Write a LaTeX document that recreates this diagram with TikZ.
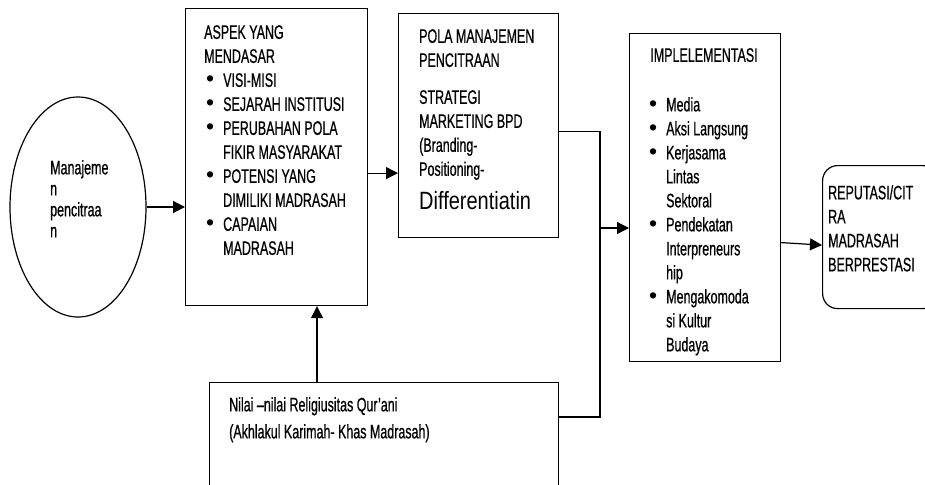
\documentclass[tikz,border=0pt]{standalone}
\usepackage{fontspec}
\setmainfont{Liberation Sans}[FakeStretch=0.64,FakeBold=0.6]
\newfontfamily\difont{Liberation Sans}[FakeStretch=0.8]
\newfontfamily\bulfont{Liberation Sans}
\usetikzlibrary{arrows.meta}
\usetikzlibrary{shapes.geometric}
\newcommand{\itm}{\makebox[19pt][l]{\hspace{2pt}{\bulfont\fontsize{23}{24}\selectfont\textbullet}}}
\newcommand{\ind}{\hspace*{19pt}}

\begin{document}
\begin{tikzpicture}[x=1pt,y=-1pt,
    box/.style={draw, line width=1.2pt, inner sep=0pt, anchor=north west},
    txt/.style={inner sep=0pt, anchor=north west, align=left, font=\fontsize{19.5}{24}\selectfont},
    arr/.style={line width=1.2pt, -{Triangle[length=12pt,width=12pt]}},
    lin/.style={line width=1.2pt}]
    \clip (0,0) rectangle (925,484);

    % kotak-kotak
    \node[draw, line width=1.2pt, ellipse, minimum width=136pt, minimum height=220pt] (mp) at (78,207) {};
    \node[box, minimum width=182pt, minimum height=297pt] (aspek) at (185,8) {};
    \node[box, minimum width=160pt, minimum height=224pt] (pola) at (398,13) {};
    \node[box, minimum width=151pt, minimum height=328pt] (impl) at (629,33) {};
    \node[box, minimum width=349pt, minimum height=140pt] (nilai) at (209,382) {};
    \node[box, rounded corners=15pt, minimum width=115pt, minimum height=143pt] (rep) at (822,165) {};

    % teks
    \node[txt, font=\fontsize{19.5}{21}\selectfont] (mptxt) at (50,160) {Manajeme\\n\\pencitraa\\n};
    \node[txt] (aspektxt) at (204,25) {ASPEK YANG\\MENDASAR\\\itm VISI-MISI\\\itm SEJARAH INSTITUSI\\\itm PERUBAHAN POLA\\\ind FIKIR MASYARAKAT\\\itm POTENSI YANG\\\ind DIMILIKI MADRASAH\\\itm CAPAIAN\\\ind MADRASAH};
    \node[txt] (polatxt) at (419,29) {POLA MANAJEMEN\\PENCITRAAN\\[13pt]STRATEGI\\MARKETING BPD\\(Branding-\\Positioning-\\[10pt]{\difont\fontsize{25}{30}\selectfont Differentiatin}};
    \node[txt, anchor=north] (impltitle) at (704,48) {IMPLELEMENTASI};
    \node[txt] (impltxt) at (647,97) {\itm Media\\\itm Aksi Langsung\\\itm Kerjasama\\\ind Lintas\\\ind Sektoral\\\itm Pendekatan\\\ind Interpreneurs\\\ind hip\\\itm Mengakomoda\\\ind si Kultur\\\ind Budaya};
    \node[txt, font=\fontsize{19.5}{27}\selectfont] (nilaitxt) at (229,397) {Nilai –nilai Religiusitas Qur’ani\\(Akhlakul Karimah- Khas Madrasah)};
    \node[txt] (reptxt) at (828,185) {REPUTASI/CIT\\RA\\MADRASAH\\BERPRESTASI};

    % panah
    \coordinate (j2) at (600,228);
    \coordinate (j3) at (600,417);
    \draw[arr] (mp.east) -- (mp.east -| aspek.west);
    \draw[arr] ([yshift=-16pt]aspek.east) -- ([yshift=-16pt]aspek.east -| pola.west);
    \draw[lin] ([yshift=-6pt]pola.east) -| (j3) -- (j3 -| nilai.east);
    \draw[arr] (j2) -- (j2 -| impl.west);
    \draw[arr] ([xshift=108pt]nilai.north west) -- ([xshift=108pt]nilai.north west |- aspek.south);
    \draw[arr] ([yshift=-45pt]impl.east) -- ([yshift=-8pt]rep.west);
\end{tikzpicture}
\end{document}
